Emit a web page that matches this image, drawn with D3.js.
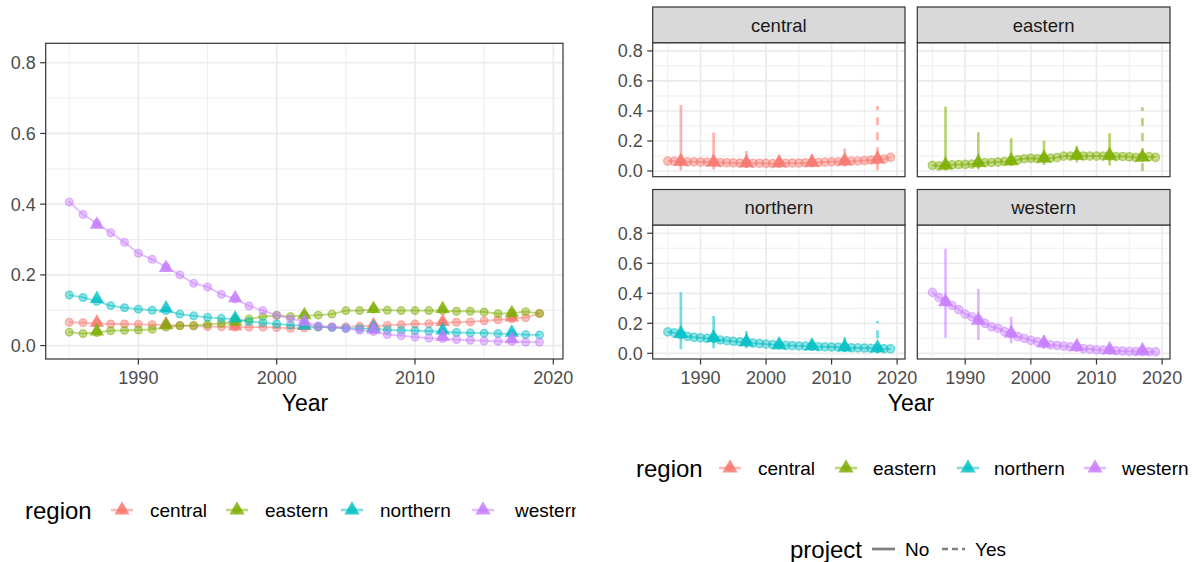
<!DOCTYPE html>
<html><head><meta charset="utf-8">
<script src="https://cdn.jsdelivr.net/npm/d3@7"></script>
<style>body{margin:0;background:#fff}svg{display:block;font-family:"Liberation Sans",Arial,Helvetica,sans-serif}</style>
</head><body><svg id="c" width="1195" height="562"></svg>
<script>
const years=[1985,1986,1987,1988,1989,1990,1991,1992,1993,1994,1995,1996,1997,1998,1999,2000,2001,2002,2003,2004,2005,2006,2007,2008,2009,2010,2011,2012,2013,2014,2015,2016,2017,2018,2019];
const regions=["central","eastern","northern","western"];
const colors=["#F8766D","#7CAE00","#00BFC4","#C77CFF"];
const centralModel=[0.066,0.065,0.063,0.061,0.061,0.060,0.059,0.058,0.057,0.055,0.054,0.053,0.052,0.052,0.052,0.051,0.049,0.050,0.052,0.053,0.053,0.055,0.056,0.057,0.059,0.061,0.062,0.065,0.066,0.067,0.070,0.073,0.076,0.079,0.091];
const easternModel=[0.038,0.034,0.037,0.042,0.043,0.044,0.046,0.052,0.056,0.057,0.060,0.063,0.066,0.075,0.082,0.085,0.082,0.085,0.086,0.089,0.099,0.099,0.103,0.100,0.099,0.099,0.099,0.099,0.097,0.097,0.095,0.090,0.092,0.096,0.091];
const northernModel=[0.143,0.136,0.125,0.113,0.107,0.103,0.100,0.099,0.089,0.084,0.080,0.077,0.075,0.068,0.065,0.061,0.058,0.056,0.053,0.051,0.049,0.048,0.047,0.044,0.043,0.042,0.041,0.039,0.037,0.036,0.035,0.034,0.033,0.031,0.030];
const westernModel=[0.406,0.371,0.345,0.319,0.292,0.261,0.244,0.222,0.200,0.176,0.166,0.145,0.132,0.112,0.099,0.086,0.076,0.068,0.056,0.052,0.048,0.043,0.040,0.031,0.028,0.024,0.021,0.020,0.017,0.015,0.013,0.012,0.012,0.010,0.010];
const surveyYears=[1987,1992,1997,2002,2007,2012,2017];
const project=["No","No","No","No","No","No","Yes"];
const centralSurvey=[0.065,0.060,0.055,0.056,0.058,0.067,0.080];
const easternSurvey=[0.040,0.058,0.068,0.086,0.104,0.104,0.092];
const northernSurvey=[0.132,0.105,0.077,0.057,0.050,0.043,0.037];
const westernSurvey=[0.342,0.220,0.134,0.068,0.045,0.025,0.018];
const centralLo=[0.005,0.010,0.020,0.030,0.030,0.030,0.005];
const centralHi=[0.440,0.256,0.133,0.095,0.110,0.150,0.433];
const easternLo=[0.005,0.011,0.036,0.040,0.056,0.036,0.000];
const easternHi=[0.429,0.258,0.218,0.202,0.169,0.251,0.424];
const northernLo=[0.027,0.033,0.033,0.035,0.030,0.011,0.000];
const northernHi=[0.407,0.249,0.149,0.095,0.090,0.107,0.216];
const westernLo=[0.104,0.089,0.067,0.030,0.020,0.005,0.000];
const westernHi=[0.696,0.429,0.244,0.120,0.090,0.060,0.090];
const yTicks=[0,0.2,0.4,0.6,0.8];
const yMinor=[0.1,0.3,0.5,0.7];
const xTicks=[1990,2000,2010,2020];
const xMinor=[1985,1995,2005,2015];

const model={central:centralModel,eastern:easternModel,northern:northernModel,western:westernModel};
const survey={central:centralSurvey,eastern:easternSurvey,northern:northernSurvey,western:westernSurvey};
const lo={central:centralLo,eastern:easternLo,northern:northernLo,western:westernLo};
const hi={central:centralHi,eastern:easternHi,northern:northernHi,western:westernHi};
const color=d3.scaleOrdinal(regions,colors);

const svg=d3.select("#c");
const defs=svg.append("defs");
let clipId=0;
const tri=d3.symbol().type(d3.symbolTriangle);

function panel(x,y,regs,o){
  const g=svg.append("g");
  const [x0,x1]=x.range(),[y0,y1]=y.range();
  const id="cp"+(clipId++);
  defs.append("clipPath").attr("id",id).append("rect").attr("x",x0).attr("y",y1).attr("width",x1-x0).attr("height",y0-y1);
  const grid=g.append("g");
  xMinor.forEach(v=>grid.append("line").attr("x1",x(v)).attr("x2",x(v)).attr("y1",y1).attr("y2",y0).attr("stroke","#ECECEC").attr("stroke-width",0.9));
  yMinor.forEach(v=>grid.append("line").attr("y1",y(v)).attr("y2",y(v)).attr("x1",x0).attr("x2",x1).attr("stroke","#ECECEC").attr("stroke-width",0.9));
  xTicks.forEach(v=>grid.append("line").attr("x1",x(v)).attr("x2",x(v)).attr("y1",y1).attr("y2",y0).attr("stroke","#EBEBEB").attr("stroke-width",1.7));
  yTicks.forEach(v=>grid.append("line").attr("y1",y(v)).attr("y2",y(v)).attr("x1",x0).attr("x2",x1).attr("stroke","#EBEBEB").attr("stroke-width",1.7));
  const d=g.append("g").attr("clip-path",`url(#${id})`);
  regs.forEach(r=>{
    const c=color(r);
    const pts=years.map((yr,i)=>[yr,model[r][i]]);
    d.append("path").attr("d",d3.line().x(p=>x(p[0])).y(p=>y(p[1]))(pts)).attr("fill","none").attr("stroke",c).attr("stroke-opacity",0.5).attr("stroke-width",1.8);
    d.selectAll(null).data(pts).join("circle").attr("cx",p=>x(p[0])).attr("cy",p=>y(p[1])).attr("r",o.r)
      .attr("fill",c).attr("fill-opacity",0.45).attr("stroke",c).attr("stroke-opacity",0.5).attr("stroke-width",1.2);
  });
  regs.forEach(r=>{
    const c=color(r);
    if(o.err){
      surveyYears.forEach((yr,i)=>{
        d.append("line").attr("x1",x(yr)).attr("x2",x(yr)).attr("y1",y(lo[r][i])).attr("y2",y(hi[r][i]))
          .attr("stroke",c).attr("stroke-opacity",0.55).attr("stroke-width",2.7)
          .attr("stroke-dasharray",project[i]==="Yes"?"8,7":null);
      });
    }
    surveyYears.forEach((yr,i)=>{
      d.append("path").attr("transform",`translate(${x(yr)},${y(survey[r][i])})`).attr("d",tri.size(o.ts)())
        .attr("fill",c).attr("fill-opacity",0.8);
    });
  });
  g.append("rect").attr("x",x0).attr("y",y1).attr("width",x1-x0).attr("height",y0-y1).attr("fill","none").attr("stroke","#333").attr("stroke-width",1.2);
  if(o.yAxis){
    yTicks.forEach(v=>{
      g.append("line").attr("x1",x0-5.5).attr("x2",x0).attr("y1",y(v)).attr("y2",y(v)).attr("stroke","#333").attr("stroke-width",1.2);
      g.append("text").attr("x",x0-10).attr("y",y(v)).attr("dy","0.36em").attr("text-anchor","end").attr("font-size",18).attr("fill","#4D4D4D").text(d3.format(".1f")(v));
    });
  }
  if(o.xAxis){
    xTicks.forEach(v=>{
      g.append("line").attr("x1",x(v)).attr("x2",x(v)).attr("y1",y0).attr("y2",y0+5.5).attr("stroke","#333").attr("stroke-width",1.2);
      g.append("text").attr("x",x(v)).attr("y",y0+25).attr("text-anchor","middle").attr("font-size",18).attr("fill","#4D4D4D").text(v);
    });
  }
  if(o.strip){
    const sy=o.strip[0],sh=o.strip[1];
    g.append("rect").attr("x",x0).attr("y",sy).attr("width",x1-x0).attr("height",sh).attr("fill","#D9D9D9").attr("stroke","#333").attr("stroke-width",1.2);
    g.append("text").attr("x",(x0+x1)/2).attr("y",sy+sh/2).attr("dy","0.36em").attr("text-anchor","middle").attr("font-size",18.5).attr("fill","#1A1A1A").text(o.label);
  }
}

const yDom=[-0.038,0.855];
// Left panel
const xL=d3.scaleLinear([1983.3,2020.7],[45.7,563]);
const yL=d3.scaleLinear(yDom,[359,43.3]);
panel(xL,yL,regions,{r:3.9,ts:90,err:false,yAxis:true,xAxis:true});
svg.append("text").attr("x",305).attr("y",411).attr("text-anchor","middle").attr("font-size",23).attr("fill","#000").text("Year");

// Facets
const fx=[[652.7,905],[917.3,1170]];
const fy=[[176.7,42.7],[359,225]];
const strips=[[7,35.7],[189.5,35.5]];
regions.forEach((r,i)=>{
  const col=i%2,row=Math.floor(i/2);
  const x=d3.scaleLinear([1982.7,2021.2],fx[col]);
  const y=d3.scaleLinear(yDom,fy[row]);
  panel(x,y,[r],{r:4.2,ts:100,err:true,yAxis:col===0,xAxis:row===1,strip:strips[row],label:r});
});
svg.append("text").attr("x",911).attr("y",411).attr("text-anchor","middle").attr("font-size",23).attr("fill","#000").text("Year");

// Legends
function regionLegend(g,yc,titleX,keyX,labX){
  g.append("text").attr("x",titleX).attr("y",yc).attr("dy","0.36em").attr("font-size",24).attr("fill","#000").text("region");
  regions.forEach((r,i)=>{
    const c=color(r);
    g.append("line").attr("x1",keyX[i]-11).attr("x2",keyX[i]+11).attr("y1",yc).attr("y2",yc).attr("stroke",c).attr("stroke-opacity",0.5).attr("stroke-width",2.6);
    g.append("circle").attr("cx",keyX[i]).attr("cy",yc).attr("r",3.8).attr("fill",c).attr("fill-opacity",0.5);
    g.append("path").attr("transform",`translate(${keyX[i]},${yc})`).attr("d",tri.size(100)()).attr("fill",c).attr("fill-opacity",0.8);
    g.append("text").attr("x",labX[i]).attr("y",yc).attr("dy","0.36em").attr("font-size",19).attr("fill","#000").text(r);
  });
}
defs.append("clipPath").attr("id","leftClip").append("rect").attr("x",0).attr("y",0).attr("width",576).attr("height",562);
regionLegend(svg.append("g").attr("clip-path","url(#leftClip)"),510,25,[122,237,352,483],[150,265,380,515]);
regionLegend(svg.append("g"),468,636,[730,846,968,1095],[758,873,994,1122]);

const pl=svg.append("g");
const py=549;
pl.append("text").attr("x",790).attr("y",py).attr("dy","0.36em").attr("font-size",24).attr("fill","#000").text("project");
pl.append("line").attr("x1",872).attr("x2",895).attr("y1",py).attr("y2",py).attr("stroke","#7F7F7F").attr("stroke-width",2.7);
pl.append("text").attr("x",905).attr("y",py).attr("dy","0.36em").attr("font-size",19).attr("fill","#000").text("No");
pl.append("line").attr("x1",942).attr("x2",965).attr("y1",py).attr("y2",py).attr("stroke","#7F7F7F").attr("stroke-width",2.7).attr("stroke-dasharray","6,4");
pl.append("text").attr("x",975).attr("y",py).attr("dy","0.36em").attr("font-size",19).attr("fill","#000").text("Yes");
</script></body></html>
